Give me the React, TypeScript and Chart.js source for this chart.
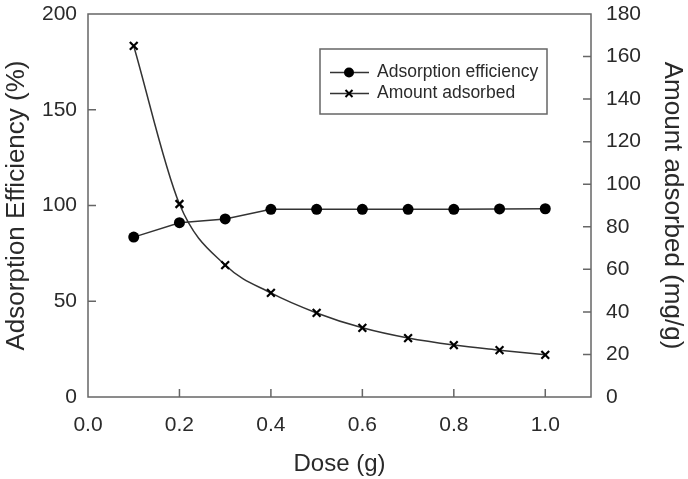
import React, { useEffect, useRef } from "react";
import { Chart, registerables } from "chart.js";
Chart.register(...registerables);

const doses = [0.1, 0.2, 0.3, 0.4, 0.5, 0.6, 0.7, 0.8, 0.9, 1.0];
const efficiency = [83.5, 91, 93, 98, 98, 98, 98, 98, 98.2, 98.3];
const amountAdsorbed = [165, 90.7, 62, 48.9, 39.5, 32.5, 27.7, 24.4, 22, 19.8];
const xTicks = [0.0, 0.2, 0.4, 0.6, 0.8, 1.0];
const leftTicks = [0, 50, 100, 150, 200];
const rightTicks = [0, 20, 40, 60, 80, 100, 120, 140, 160, 180];
const seriesLabels = ["Adsorption efficiency", "Amount adsorbed"];

const FONT = "'Liberation Sans', Arial, sans-serif";
const AXIS = "#666";
const LINE = "#333";
const TEXT = "#2a2a2a";

const frameTicksPlugin = {
  id: "frameTicks",
  afterDatasetsDraw(chart: any) {
    const { ctx, chartArea } = chart;
    const { left, right, top, bottom } = chartArea;
    ctx.save();
    ctx.strokeStyle = AXIS;
    ctx.lineWidth = 1.5;
    ctx.strokeRect(left, top, right - left, bottom - top);
    const len = 8;
    ctx.beginPath();
    const xs = chart.scales.x;
    xTicks.forEach((v) => {
      if (v === 0) return;
      const px = xs.getPixelForValue(v);
      ctx.moveTo(px, bottom);
      ctx.lineTo(px, bottom - len);
    });
    const yl = chart.scales.y;
    leftTicks.forEach((v) => {
      if (v === 0 || v === 200) return;
      const py = yl.getPixelForValue(v);
      ctx.moveTo(left, py);
      ctx.lineTo(left + len, py);
    });
    const yr = chart.scales.y1;
    rightTicks.forEach((v) => {
      if (v === 0 || v === 180) return;
      const py = yr.getPixelForValue(v);
      ctx.moveTo(right, py);
      ctx.lineTo(right - len, py);
    });
    ctx.stroke();
    ctx.restore();
  },
};

const legendPlugin = {
  id: "boxLegend",
  afterDraw(chart: any) {
    const { ctx, chartArea } = chart;
    const bx = chartArea.left + 232;
    const by = chartArea.top + 35;
    const bw = 227;
    const bh = 65;
    ctx.save();
    ctx.fillStyle = "#fff";
    ctx.fillRect(bx, by, bw, bh);
    ctx.strokeStyle = AXIS;
    ctx.lineWidth = 1.5;
    ctx.strokeRect(bx, by, bw, bh);
    chart.data.datasets.forEach((ds: any, i: number) => {
      const cy = by + 23.5 + i * 21;
      ctx.strokeStyle = LINE;
      ctx.lineWidth = 1.5;
      ctx.beginPath();
      ctx.moveTo(bx + 10, cy);
      ctx.lineTo(bx + 49, cy);
      ctx.stroke();
      const mx = bx + 29;
      if (ds.pointStyle === "circle") {
        ctx.fillStyle = "#000";
        ctx.beginPath();
        ctx.arc(mx, cy, 5, 0, Math.PI * 2);
        ctx.fill();
      } else {
        ctx.strokeStyle = "#000";
        ctx.lineWidth = 2;
        ctx.beginPath();
        ctx.moveTo(mx - 3.5, cy - 3.5);
        ctx.lineTo(mx + 3.5, cy + 3.5);
        ctx.moveTo(mx + 3.5, cy - 3.5);
        ctx.lineTo(mx - 3.5, cy + 3.5);
        ctx.stroke();
      }
      ctx.fillStyle = TEXT;
      ctx.font = `17.5px ${FONT}`;
      ctx.textBaseline = "middle";
      ctx.textAlign = "left";
      ctx.fillText(ds.label, bx + 57, cy);
    });
    ctx.restore();
  },
};

export default function App() {
  const ref = useRef<HTMLCanvasElement>(null);
  useEffect(() => {
    document.body.style.margin = "0";
    const canvas = ref.current!;
    const chart = new Chart(canvas, {
      type: "line",
      data: {
        datasets: [
          {
            label: seriesLabels[0],
            data: doses.map((d, i) => ({ x: d, y: efficiency[i] })),
            yAxisID: "y",
            borderColor: LINE,
            borderWidth: 1.5,
            pointStyle: "circle",
            pointRadius: 5.5,
            pointBackgroundColor: "#000",
            pointBorderColor: "#000",
            pointBorderWidth: 0,
            tension: 0,
          },
          {
            label: seriesLabels[1],
            data: doses.map((d, i) => ({ x: d, y: amountAdsorbed[i] })),
            yAxisID: "y1",
            borderColor: LINE,
            borderWidth: 1.5,
            pointStyle: "crossRot",
            pointRadius: 5.5,
            pointBorderColor: "#000",
            pointBorderWidth: 2.2,
            cubicInterpolationMode: "monotone",
          },
        ],
      },
      options: {
        animation: false,
        responsive: false,
        maintainAspectRatio: false,
        layout: { padding: { top: 14, left: 0, right: 0, bottom: 0 } },
        plugins: { legend: { display: false }, tooltip: { enabled: false } },
        scales: {
          x: {
            type: "linear",
            min: 0,
            max: 1.1,
            afterBuildTicks: (s: any) => {
              s.ticks = xTicks.map((v) => ({ value: v }));
            },
            afterFit: (s: any) => {
              s.height = 82;
              s.paddingLeft = 0;
              s.paddingRight = 0;
            },
            grid: { display: false, drawTicks: false, tickLength: 0 },
            border: { display: false },
            ticks: {
              padding: 16,
              color: TEXT,
              font: { size: 21, family: FONT },
              callback: (v: any) => Number(v).toFixed(1),
            },
            title: {
              display: true,
              text: "Dose (g)",
              color: TEXT,
              font: { size: 24, family: FONT },
              padding: { top: 0, bottom: 0 },
            },
          },
          y: {
            type: "linear",
            position: "left",
            min: 0,
            max: 200,
            afterBuildTicks: (s: any) => {
              s.ticks = leftTicks.map((v) => ({ value: v }));
            },
            afterFit: (s: any) => {
              s.width = 88;
              s.paddingTop = 0;
              s.paddingBottom = 0;
            },
            grid: { display: false, drawTicks: false, tickLength: 0 },
            border: { display: false },
            ticks: {
              padding: 11,
              color: TEXT,
              font: { size: 21, family: FONT },
            },
            title: {
              display: true,
              text: "Adsorption Efficiency (%)",
              color: TEXT,
              font: { size: 26, family: FONT },
              padding: { top: 1, bottom: 0 },
            },
          },
          y1: {
            type: "linear",
            position: "right",
            min: 0,
            max: 180,
            afterBuildTicks: (s: any) => {
              s.ticks = rightTicks.map((v) => ({ value: v }));
            },
            afterFit: (s: any) => {
              s.width = 97;
              s.paddingTop = 0;
              s.paddingBottom = 0;
            },
            grid: { display: false, drawTicks: false, tickLength: 0 },
            border: { display: false },
            ticks: {
              padding: 15,
              color: TEXT,
              font: { size: 21, family: FONT },
            },
            title: {
              display: true,
              text: "Amount adsorbed (mg/g)",
              color: TEXT,
              font: { size: 26, family: FONT },
              padding: { top: 0, bottom: 0 },
            },
          },
        },
      },
      plugins: [frameTicksPlugin, legendPlugin],
    } as any);
    return () => chart.destroy();
  }, []);
  return (
    <div style={{ width: 688, height: 479 }}>
      <canvas ref={ref} width={688} height={479} style={{ display: "block" }} />
    </div>
  );
}
